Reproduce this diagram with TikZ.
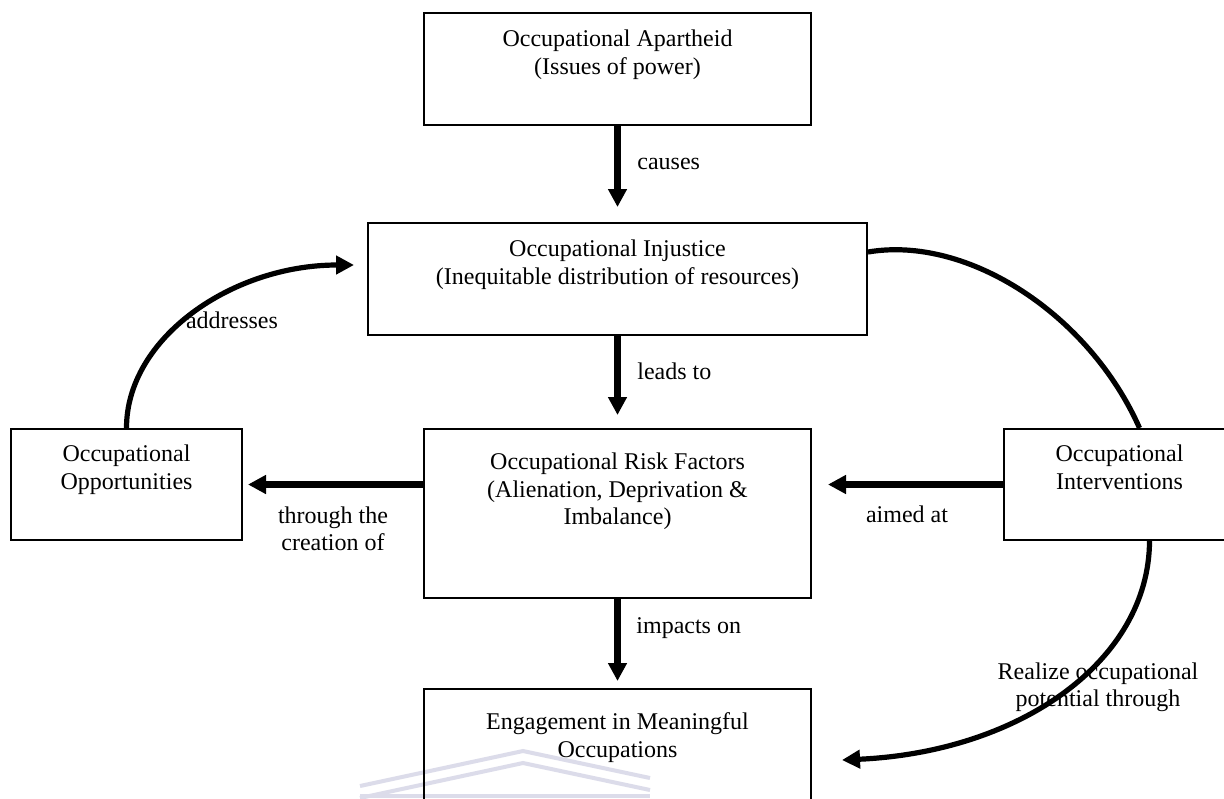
\documentclass[tikz,border=0pt]{standalone}
\usepackage{fontspec}
\setmainfont{Liberation Serif}
\usetikzlibrary{arrows.meta, positioning, calc}
\definecolor{wmark}{HTML}{DCDCEA}

\tikzset{
  box/.style={draw, line width=1pt, inner sep=0pt, minimum width=193.5pt, minimum height=56pt},
  boxtxt/.style={anchor=north, align=center, inner sep=0pt},
  flow/.style={-{Triangle[length=9pt, width=9pt]}, line width=3.3pt},
  curvearrow/.style={-{Triangle[length=9pt, width=9pt]}, line width=2.6pt},
  lbl/.style={inner sep=0pt, align=center},
}

\begin{document}
\begin{tikzpicture}[x=0.5pt, y=-0.5pt, font=\fontsize{12}{13.8}\selectfont]

\clip (0,0) rectangle (1224,798);
\fill[white] (0,0) rectangle (1224,798);

% faint watermark at the bottom
\draw[wmark, line width=2pt] (360,786) -- (523,751) -- (650,778);
\draw[wmark, line width=2pt] (360,798) -- (523,763) -- (650,790);
\draw[wmark, line width=2pt] (360,796) -- (650,796);

% === Boxes ===
\node[box, label={[boxtxt, yshift=-8.8pt]north:{Occupational Apartheid\\(Issues of power)}}]
  (apart) at (617.5,69) {};
\node[box, minimum width=249.5pt,
  label={[boxtxt, yshift=-8.8pt]north:{Occupational Injustice\\(Inequitable distribution of resources)}}]
  (inj) at (617.5,279) {};
\node[box, minimum height=84.5pt,
  label={[boxtxt, yshift=-12.3pt]north:{Occupational Risk Factors\\(Alienation, Deprivation \&\\Imbalance)}}]
  (risk) at (617.5,513.5) {};
\node[box, minimum height=85.5pt,
  label={[boxtxt, yshift=-12.3pt]north:{Engagement in Meaningful\\Occupations}}]
  (engage) at (617.5,774.5) {};
\node[box, minimum width=115.5pt, minimum height=55.5pt,
  label={[boxtxt, yshift=-8.3pt]north:{Occupational\\Opportunities}}]
  (opp) at (126.5,484.5) {};
\node[box, minimum width=115.5pt, minimum height=55.5pt,
  label={[boxtxt, yshift=-8.3pt]north:{Occupational\\Interventions}}]
  (interv) at (1119.5,484.5) {};

% === Labels ===
\node[lbl, anchor=base west] (causes) at (637,169) {causes};
\node[lbl, anchor=base west] (leads) at (637,379) {leads to};
\node[lbl, anchor=base west] (impacts) at (636,633) {impacts on};
\node[lbl, anchor=north] (creation) at (333,506) {through the\\creation of};
\node[lbl, anchor=north] (aimed) at (907,505) {aimed at};
\node[lbl] (addr) at (232,320) {addresses};
\node[lbl, anchor=north] (realize) at (1098,662) {Realize occupational\\potential through};

% === Straight arrows ===
\draw[flow, shorten >=7.5pt] (apart) -- (inj);
\draw[flow, shorten >=6.5pt] (inj) -- (risk);
\draw[flow, shorten >=3.5pt] (risk) -- (engage);
\draw[flow, shorten >=2.5pt] (risk.west |- opp.east) -- (opp.east);
\draw[flow, shorten >=8pt] (interv.west) -- (risk.east |- interv.west);

% === Curved connectors ===
\draw[curvearrow, shorten >=6.5pt] (opp.north) .. controls +(0,-90) and +(-135,0) .. ([yshift=7pt]inj.west);
\draw[line width=2.6pt] ([yshift=13.5pt]inj.east) .. controls +(100,-17) and +(-50,-113) .. ([xshift=10pt]interv.north);
\coordinate (realend) at (842,760);
\draw[curvearrow] ([xshift=15pt]interv.south) .. controls +(-0.5,120) and +(178,-8) .. (realend);

\end{tikzpicture}
\end{document}
